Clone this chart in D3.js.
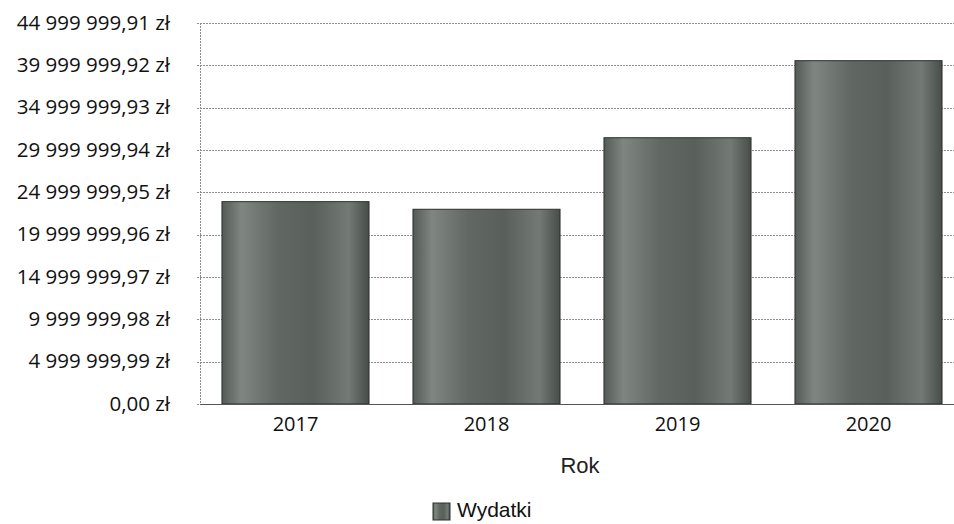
<!DOCTYPE html>
<html>
<head>
<meta charset="utf-8">
<script src="https://cdn.jsdelivr.net/npm/d3@7"></script>
<style>
  html, body { margin: 0; padding: 0; background: #fff; }
  svg { display: block; }
</style>
</head>
<body>
<div id="chart"></div>
<script>
// Wydatki per year (zł)
const years = ['2017', '2018', '2019', '2020'];
const wydatki = [23900000, 23000000, 31450000, 40550000];
// y axis ticks as printed on the chart
const yTicks = [0, 4999999.99, 9999999.98, 14999999.97, 19999999.96,
                24999999.95, 29999999.94, 34999999.93, 39999999.92, 44999999.91];
const xTitle = 'Rok';
const seriesName = 'Wydatki';

const width = 954, height = 524;
const margin = { top: 23, right: -10, bottom: 120, left: 200 };

const pl = d3.formatLocale({
    decimal: ',', thousands: ' ', grouping: [3], currency: ['', ' zł']
});
const fmt = pl.format('$,.2f');

const svg = d3.select('#chart').append('svg')
    .attr('width', width)
    .attr('height', height);

// bar fill - scanned grey look, light streaks near both edges
const defs = svg.append('defs');
const grad = defs.append('linearGradient')
    .attr('id', 'barFill')
    .attr('x1', '0%').attr('x2', '100%').attr('y1', '0%').attr('y2', '0%');
[['0%', '#545a56'], ['13%', '#7f8581'], ['38%', '#616763'], ['62%', '#595f5b'],
 ['86%', '#737975'], ['100%', '#474d49']].forEach(([o, c]) => {
    grad.append('stop').attr('offset', o).attr('stop-color', c);
});

const x = d3.scaleBand()
    .domain(years)
    .range([margin.left, width - margin.right])
    .paddingInner(0.23)
    .paddingOuter(0.115);

const y = d3.scaleLinear()
    .domain([0, yTicks[yTicks.length - 1]])
    .range([height - margin.bottom, margin.top]);

// gridlines
svg.append('g')
    .selectAll('line')
    .data(yTicks)
    .join('line')
    .attr('x1', margin.left - 3)
    .attr('x2', width)
    .attr('y1', d => Math.round(y(d)) + 0.5)
    .attr('y2', d => Math.round(y(d)) + 0.5)
    .attr('stroke', '#8c8c8c')
    .attr('stroke-width', 1)
    .attr('stroke-dasharray', '2,1');

// y axis line
svg.append('line')
    .attr('x1', margin.left + 0.5).attr('x2', margin.left + 0.5)
    .attr('y1', y(yTicks[yTicks.length - 1])).attr('y2', y(0))
    .attr('stroke', '#8c8c8c')
    .attr('stroke-dasharray', '2,1');

// bars
svg.append('g')
    .selectAll('rect')
    .data(years)
    .join('rect')
    .attr('x', d => x(d))
    .attr('y', (d, i) => y(wydatki[i]))
    .attr('width', x.bandwidth())
    .attr('height', (d, i) => y(0) - y(wydatki[i]))
    .attr('fill', 'url(#barFill)')
    .attr('stroke', '#2b312d')
    .attr('stroke-width', 1);

// x axis baseline
svg.append('line')
    .attr('x1', margin.left).attr('x2', width)
    .attr('y1', Math.round(y(0)) + 0.5).attr('y2', Math.round(y(0)) + 0.5)
    .attr('stroke', '#555');

// y tick labels
svg.append('g')
    .selectAll('text')
    .data(yTicks)
    .join('text')
    .attr('x', 170)
    .attr('y', d => y(d))
    .attr('dy', '0.33em')
    .attr('text-anchor', 'end')
    .attr('font-family', '"Open Sans", sans-serif')
    .attr('font-size', '20.5px')
    .attr('fill', '#111')
    .text(d => fmt(d));

// x tick labels
svg.append('g')
    .selectAll('text')
    .data(years)
    .join('text')
    .attr('x', d => x(d) + x.bandwidth() / 2)
    .attr('y', 431)
    .attr('text-anchor', 'middle')
    .attr('font-family', '"Open Sans", sans-serif')
    .attr('font-size', '20px')
    .attr('fill', '#111')
    .text(d => d);

// axis title
svg.append('text')
    .attr('x', 580)
    .attr('y', 473)
    .attr('text-anchor', 'middle')
    .attr('font-family', '"Liberation Sans", Arial, sans-serif')
    .attr('font-size', '22px')
    .attr('fill', '#222')
    .text(xTitle);

// legend
const legend = svg.append('g');
legend.append('rect')
    .attr('x', 433).attr('y', 503)
    .attr('width', 17).attr('height', 17)
    .attr('fill', 'url(#barFill)')
    .attr('stroke', '#2b312d');
legend.append('text')
    .attr('x', 457)
    .attr('y', 517)
    .attr('font-family', '"Liberation Sans", Arial, sans-serif')
    .attr('font-size', '21px')
    .attr('fill', '#111')
    .text(seriesName);
</script>
</body>
</html>
